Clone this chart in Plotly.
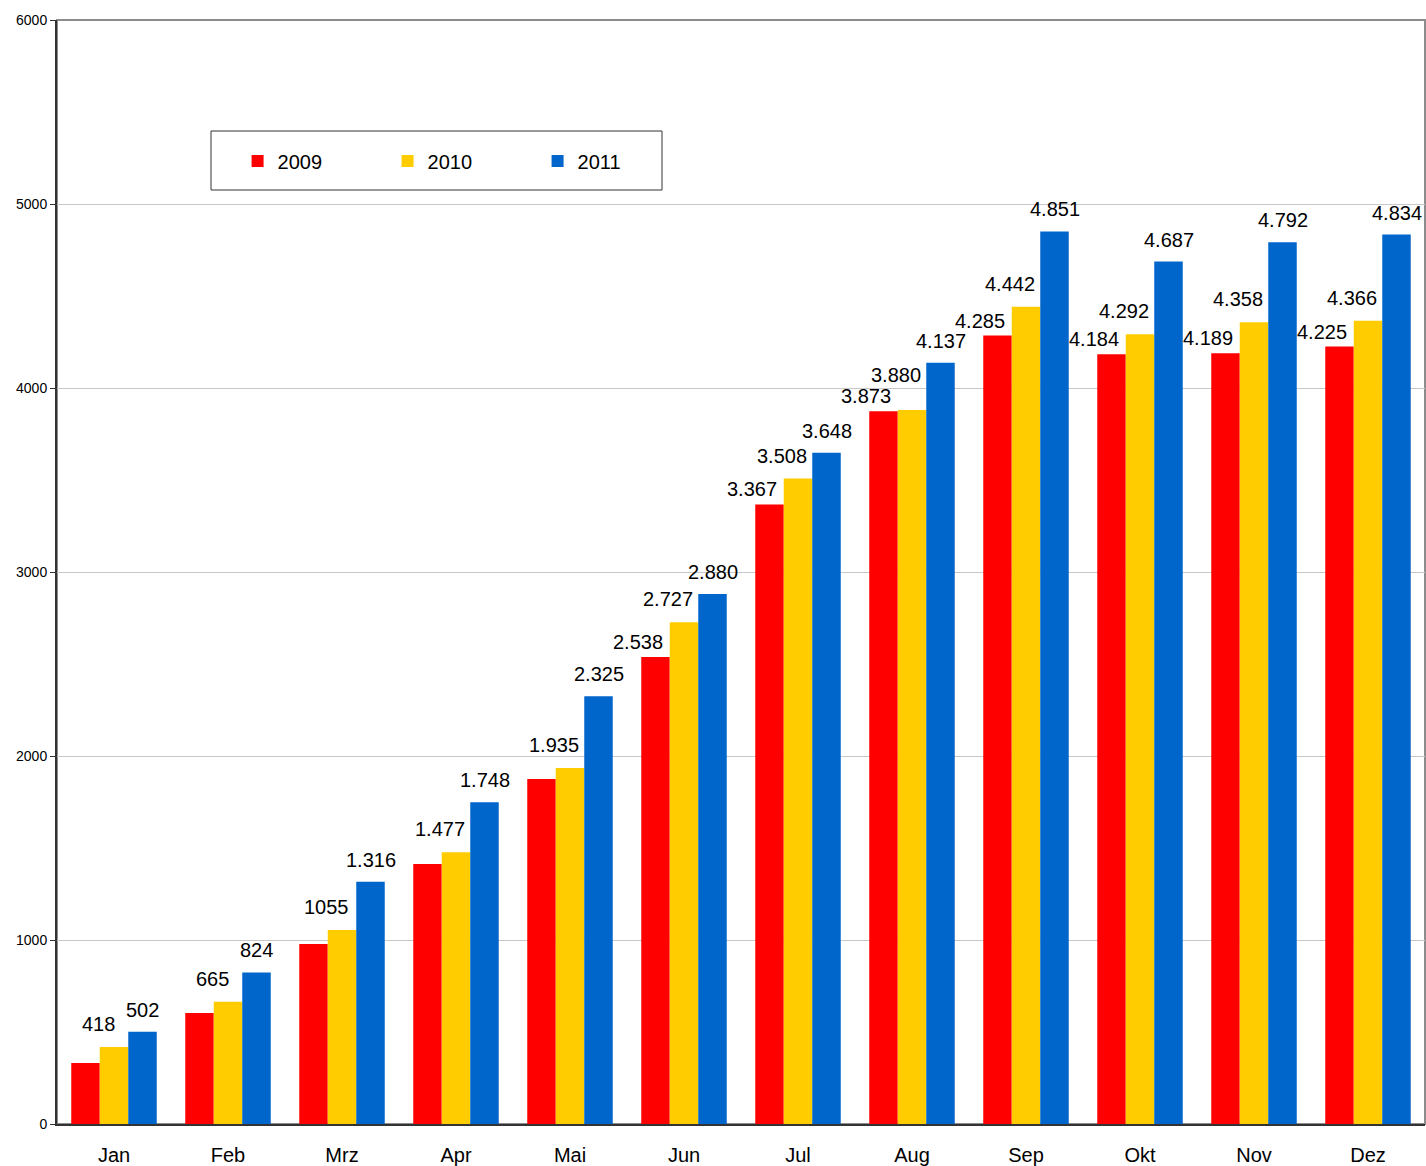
import plotly.graph_objects as go

months = ["Jan", "Feb", "Mrz", "Apr", "Mai", "Jun", "Jul", "Aug", "Sep", "Okt", "Nov", "Dez"]
years = ["2009", "2010", "2011"]

values_2009 = [331, 603, 978, 1413, 1875, 2538, 3367, 3873, 4285, 4184, 4189, 4225]
values_2010 = [418, 665, 1055, 1477, 1935, 2727, 3508, 3880, 4442, 4292, 4358, 4366]
values_2011 = [502, 824, 1316, 1748, 2325, 2880, 3648, 4137, 4851, 4687, 4792, 4834]

labels_2009 = ["", "", "", "", "", "2.538", "3.367", "3.873", "4.285", "4.184", "4.189", "4.225"]
labels_2010 = ["418", "665", "1055", "1.477", "1.935", "2.727", "3.508", "3.880", "4.442", "4.292", "4.358", "4.366"]
labels_2011 = ["502", "824", "1.316", "1.748", "2.325", "2.880", "3.648", "4.137", "4.851", "4.687", "4.792", "4.834"]

y_ticks = [0, 1000, 2000, 3000, 4000, 5000, 6000]

colors = ["#FF0000", "#FFCC00", "#0066CC"]
series = [values_2009, values_2010, values_2011]
label_sets = [labels_2009, labels_2010, labels_2011]

FONT = "Liberation Sans, Arial, sans-serif"
W, H = 1426, 1166
ML, MR, MT, MB = 57, 1, 20, 42
plot_w = W - ML - MR
plot_h = H - MT - MB
YMAX = 6000
cat_px = plot_w / len(months)
bargap = 0.25
bar_px = cat_px * (1 - bargap) / 3
label_adjust = [-18, -16, 0]
base_lift = [2, 10, 9]
FS = 20

fig = go.Figure()
for name, vals, col in zip(years, series, colors):
    fig.add_trace(go.Bar(name=name, x=months, y=vals, marker=dict(color=col, line=dict(width=0))))

# simple collision avoidance between labels of the same month
annotations = []
for mi, m in enumerate(months):
    placed = []
    for i in range(3):
        t = label_sets[i][mi]
        v = series[i][mi]
        if not t:
            continue
        offset = (i - 1) * bar_px + label_adjust[i]
        w = len(t) * FS * 0.53
        lift = base_lift[i]
        ypx = v * plot_h / YMAX
        for _ in range(20):
            box = (offset - w / 2, offset + w / 2, ypx + lift, ypx + lift + FS * 1.05)
            clash = any(box[0] < b[1] and b[0] < box[1] and box[2] < b[3] and b[2] < box[3] for b in placed)
            if not clash:
                break
            lift += 4
        placed.append(box)
        annotations.append(dict(
            x=m, y=v, text=t, showarrow=False, xref="x", yref="y",
            xanchor="center", yanchor="bottom", xshift=offset, yshift=lift,
            font=dict(family=FONT, size=FS, color="black"),
        ))

fig.update_layout(
    width=W, height=H,
    margin=dict(l=ML, r=MR, t=MT, b=MB, autoexpand=False),
    paper_bgcolor="white", plot_bgcolor="white",
    barmode="group", bargap=bargap, bargroupgap=0,
    font=dict(family=FONT, color="black"),
    annotations=annotations,
    showlegend=True,
    legend=dict(
        orientation="h", x=0.132, y=1 - 141 / plot_h, xanchor="left", yanchor="middle",
        entrywidth=105, entrywidthmode="pixels",
        font=dict(family=FONT, size=20, color="black"),
        bgcolor="rgba(0,0,0,0)", borderwidth=0,
    ),
    shapes=[
        dict(type="rect", xref="paper", yref="paper", x0=0, x1=1, y0=0, y1=1,
             line=dict(color="#8C8C8C", width=2), layer="below"),
        dict(type="rect", xref="paper", yref="paper",
             x0=(211 - ML) / plot_w, x1=(662 - ML) / plot_w,
             y0=(H - MB - 190) / plot_h, y1=(H - MB - 131) / plot_h,
             line=dict(color="#333333", width=1), layer="above"),
    ],
)
fig.update_xaxes(
    categoryorder="array", categoryarray=months,
    showline=True, linecolor="#333333", linewidth=2,
    ticks="", ticklabelstandoff=12, automargin=False,
    tickfont=dict(family=FONT, size=20, color="black"),
    showgrid=False,
)
fig.update_yaxes(
    range=[0, YMAX], tickvals=y_ticks, ticktext=[str(v) for v in y_ticks],
    showline=True, linecolor="#333333", linewidth=2, automargin=False,
    ticks="outside", ticklen=5, tickcolor="#333333", tickwidth=1,
    tickfont=dict(family=FONT, size=14, color="black"),
    showgrid=True, gridcolor="#C8C8C8", gridwidth=1,
    zeroline=False,
)

fig.write_html(
    "out.html",
    config={"displayModeBar": False},
    post_script="document.body.style.margin='0';document.body.style.overflow='hidden';",
)
